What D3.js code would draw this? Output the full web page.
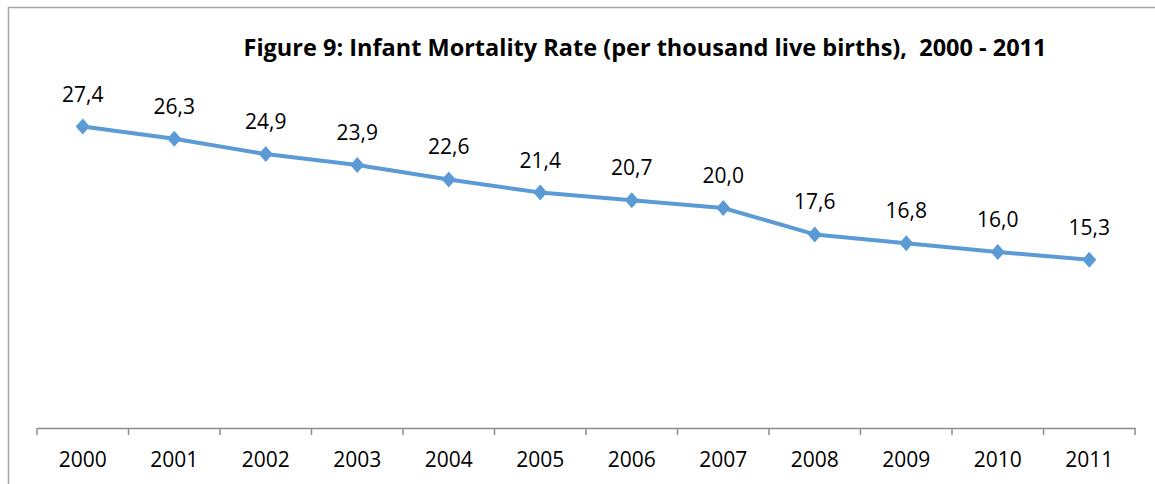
<!DOCTYPE html>
<html><head><meta charset="utf-8">
<script src="https://cdn.jsdelivr.net/npm/d3@7"></script>
<style>html,body{margin:0;padding:0;background:#fff;}svg{display:block;}</style>
</head><body>
<script>
const years = ["2000","2001","2002","2003","2004","2005","2006","2007","2008","2009","2010","2011"];
const rates = [27.4,26.3,24.9,23.9,22.6,21.4,20.7,20.0,17.6,16.8,16.0,15.3];
const titleText = "Figure 9: Infant Mortality Rate (per thousand live births),  2000 - 2011";

const W = 1155, H = 484;
const svg = d3.select("body").append("svg").attr("width", W).attr("height", H);
const font = "'Open Sans', 'Liberation Sans', sans-serif";

svg.append("rect").attr("x", 8.5).attr("y", 7.5).attr("width", W + 10).attr("height", H + 10)
  .attr("fill", "none").attr("stroke", "#a6a6a6").attr("stroke-width", 1.5);

const x = d3.scaleBand().domain(years).range([37, 1135]);
const y = d3.scaleLinear().domain([0, 30]).range([428, 98]);

const axis = svg.append("g").attr("transform", "translate(0,428)")
  .call(d3.axisBottom(x).tickSize(0).tickPadding(0));
axis.select(".domain").attr("stroke", "#8c8c8c").attr("stroke-width", 1.5);
axis.selectAll(".tick text").attr("font-family", font).attr("font-size", 21).attr("fill", "#000")
  .attr("dy", null).attr("y", 39);
const bounds = years.map(d => x(d)).concat([x.range()[1]]);
axis.selectAll("line.bnd").data(bounds).enter().append("line").attr("class","bnd")
  .attr("x1", d => d).attr("x2", d => d).attr("y1", 0).attr("y2", 7)
  .attr("stroke", "#8c8c8c").attr("stroke-width", 1.5);

const cx = d => x(d) + x.bandwidth() / 2;
const line = d3.line().x((d, i) => cx(years[i])).y(d => y(d));
svg.append("path").datum(rates).attr("d", line).attr("fill", "none")
  .attr("stroke", "#5b9bd5").attr("stroke-width", 4).attr("stroke-linejoin", "round");

svg.selectAll("path.pt").data(rates).enter().append("path").attr("class", "pt")
  .attr("d", "M0,-8L7,0L0,8L-7,0Z")
  .attr("transform", (d, i) => `translate(${cx(years[i])},${y(d)})`)
  .attr("fill", "#5b9bd5");

const fmt = d3.formatLocale({decimal: ",", thousands: ".", grouping: [3], currency: ["", ""]}).format(".1f");
svg.selectAll("text.lbl").data(rates).enter().append("text").attr("class", "lbl")
  .attr("x", (d, i) => cx(years[i])).attr("y", d => y(d) - 25)
  .attr("text-anchor", "middle").attr("font-family", font).attr("font-size", 21).attr("fill", "#000")
  .text(d => fmt(d));

svg.append("text").attr("x", 645).attr("y", 56).attr("text-anchor", "middle")
  .attr("font-family", font).attr("font-weight", "bold").attr("font-size", 23.5).attr("fill", "#000")
  .style("white-space", "pre")
  .text(titleText);
</script>
</body></html>
